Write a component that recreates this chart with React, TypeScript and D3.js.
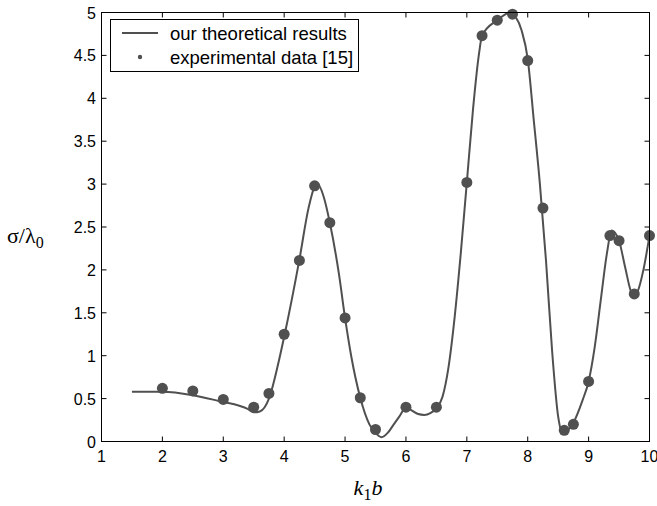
import React from "react";
import * as d3 from "d3";

const expX = [2, 2.5, 3, 3.5, 3.75, 4, 4.25, 4.5, 4.75, 5, 5.25, 5.5, 6, 6.5, 7, 7.25, 7.5, 7.75, 8, 8.25, 8.6, 8.75, 9, 9.35, 9.5, 9.75, 10];
const expY = [0.62, 0.59, 0.49, 0.4, 0.56, 1.25, 2.11, 2.98, 2.55, 1.44, 0.51, 0.14, 0.4, 0.4, 3.02, 4.73, 4.91, 4.98, 4.44, 2.72, 0.13, 0.2, 0.7, 2.4, 2.34, 1.72, 2.4];

const theoX = [1.5, 2, 2.5, 3, 3.25, 3.4, 3.5, 3.6, 3.75, 3.9, 4, 4.25, 4.4, 4.5, 4.55, 4.65, 4.75, 4.9, 5, 5.1, 5.25, 5.4, 5.5, 5.6, 5.7, 5.8, 5.9, 6, 6.1, 6.2, 6.3, 6.4, 6.5, 6.6, 6.7, 6.8, 6.9, 7, 7.1, 7.2, 7.25, 7.5, 7.72, 7.8, 7.9, 8, 8.1, 8.2, 8.3, 8.4, 8.5, 8.55, 8.6, 8.75, 8.9, 9, 9.1, 9.2, 9.3, 9.38, 9.5, 9.6, 9.7, 9.75, 9.8, 9.9, 10];
const theoY = [0.58, 0.58, 0.54, 0.46, 0.42, 0.38, 0.34, 0.35, 0.5, 0.9, 1.22, 2.12, 2.72, 2.97, 3.0, 2.85, 2.55, 1.95, 1.44, 1.0, 0.51, 0.2, 0.1, 0.05, 0.1, 0.2, 0.3, 0.4, 0.36, 0.32, 0.31, 0.33, 0.39, 0.52, 0.87, 1.45, 2.19, 3.02, 3.86, 4.52, 4.73, 4.91, 5.0, 4.95, 4.79, 4.46, 3.74, 3.0, 2.11, 1.06, 0.29, 0.13, 0.11, 0.22, 0.48, 0.7, 1.1, 1.65, 2.19, 2.46, 2.34, 2.03, 1.74, 1.7, 1.74, 2.0, 2.4];

const xTicks = [1, 2, 3, 4, 5, 6, 7, 8, 9, 10];
const yTicks = [0, 0.5, 1, 1.5, 2, 2.5, 3, 3.5, 4, 4.5, 5];
const legendLabels = ["our theoretical results", "experimental data [15]"];

export default function App() {
  const W = 657, H = 506;
  const left = 101.5, right = 649.5, top = 12.5, bottom = 441.5;
  const x = d3.scaleLinear().domain([1, 10]).range([left, right]);
  const y = d3.scaleLinear().domain([0, 5]).range([bottom, top]);
  const line = d3.line<number>().x((_, i) => x(theoX[i])).y((d) => y(d)).curve(d3.curveMonotoneX);
  const col = "#505050";
  const tl = 5;
  const font = "'Liberation Sans', Arial, sans-serif";
  const serif = "'Liberation Serif', 'Times New Roman', serif";
  return (
    <div style={{ position: "absolute", left: 0, top: 0 }}>
      <svg width={W} height={H} style={{ display: "block", background: "#fff" }}>
        <rect x={0} y={0} width={W} height={H} fill="#fff" />
        <path d={line(theoY) || ""} fill="none" stroke={col} strokeWidth={2} />
        {expX.map((v, i) => (
          <circle key={i} cx={x(v)} cy={y(expY[i])} r={5.5} fill={col} />
        ))}
        <rect x={left} y={top} width={right - left} height={bottom - top} fill="none" stroke="#000" strokeWidth={1} />
        {xTicks.map((t) => (
          <g key={"x" + t}>
            <line x1={x(t)} x2={x(t)} y1={bottom} y2={bottom - tl} stroke="#000" />
            <line x1={x(t)} x2={x(t)} y1={top} y2={top + tl} stroke="#000" />
            <text x={x(t)} y={462} textAnchor="middle" fontFamily={font} fontSize={16} fill="#000">{t}</text>
          </g>
        ))}
        {yTicks.map((t) => (
          <g key={"y" + t}>
            <line x1={left} x2={left + tl} y1={y(t)} y2={y(t)} stroke="#000" />
            <line x1={right} x2={right - tl} y1={y(t)} y2={y(t)} stroke="#000" />
            <text x={96} y={y(t) + 6} textAnchor="end" fontFamily={font} fontSize={16} fill="#000">{t}</text>
          </g>
        ))}
        <text x={368} y={495} textAnchor="middle" fontFamily={serif} fontSize={22} fill="#000">
          <tspan fontStyle="italic">k</tspan>
          <tspan fontSize={16} dy={5}>1</tspan>
          <tspan fontStyle="italic" dy={-5}>b</tspan>
        </text>
        <text x={7} y={243} fontFamily={serif} fontSize={22} fill="#000">
          <tspan>σ/λ</tspan>
          <tspan fontSize={16} dy={5}>0</tspan>
        </text>
        <rect x={110.5} y={19.5} width={248} height={52} fill="#fff" stroke="#000" strokeWidth={1} />
        <line x1={122} x2={158} y1={33} y2={33} stroke={col} strokeWidth={2} />
        <circle cx={140} cy={57} r={2.2} fill={col} />
        <text x={170} y={40} fontFamily={font} fontSize={18.5} fill="#000">{legendLabels[0]}</text>
        <text x={170} y={64} fontFamily={font} fontSize={18.5} fill="#000">{legendLabels[1]}</text>
      </svg>
    </div>
  );
}
